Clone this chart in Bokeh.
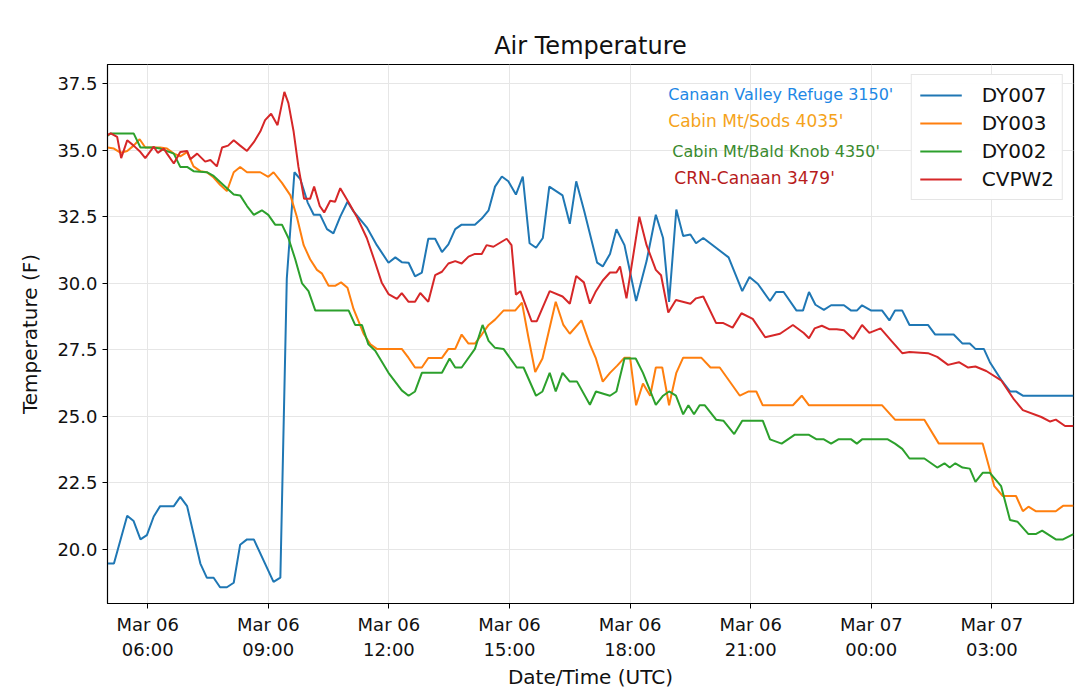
from bokeh.plotting import figure
from bokeh.models import FixedTicker, Label
from bokeh.embed import file_html
from bokeh.resources import INLINE

# hours after Mar 06 00:00 UTC
t_dy007 = [5.0, 5.16, 5.49, 5.65, 5.82, 5.98, 6.15, 6.31, 6.65, 6.81, 6.98, 7.31, 7.47, 7.64, 7.8, 7.97,
           8.14, 8.3, 8.47, 8.64, 9.13, 9.3, 9.46, 9.65, 9.8, 9.98, 10.13, 10.29, 10.46, 10.62, 10.79,
           10.97, 11.12, 11.45, 11.7, 11.99, 12.16, 12.32, 12.49, 12.65, 12.82, 12.98, 13.15, 13.32,
           13.48, 13.65, 13.81, 14.14, 14.31, 14.48, 14.64, 14.81, 14.97, 15.16, 15.33, 15.5, 15.66,
           15.83, 15.99, 16.32, 16.5, 16.66, 16.86, 17.18, 17.32, 17.5, 17.66, 17.86, 18.15, 18.41,
           18.64, 18.82, 18.97, 19.15, 19.32, 19.5, 19.64, 19.82, 20.45, 20.79, 20.97, 21.18, 21.48,
           21.63, 21.82, 22.14, 22.3, 22.45, 22.61, 22.82, 23.0, 23.32, 23.5, 23.64, 23.77, 24.0,
           24.27, 24.45, 24.59, 24.77, 24.95, 25.41, 25.59, 26.05, 26.27, 26.45, 26.59, 26.8, 26.95,
           27.23, 27.45, 27.6, 27.77, 29.03]
v_dy007 = [19.46, 19.46, 21.26, 21.06, 20.37, 20.53, 21.23, 21.62, 21.62, 21.97, 21.62, 19.46, 18.93,
           18.93, 18.57, 18.57, 18.74, 20.17, 20.37, 20.37, 18.77, 18.93, 30.17, 34.17, 33.9, 33.03,
           32.57, 32.57, 32.03, 31.87, 32.5, 33.06, 32.7, 32.1, 31.43, 30.77, 30.97, 30.79, 30.77,
           30.26, 30.4, 31.67, 31.67, 31.17, 31.46, 32.03, 32.2, 32.2, 32.43, 32.74, 33.63, 34.01,
           33.83, 33.33, 34.01, 31.5, 31.33, 31.7, 33.63, 33.3, 32.23, 33.83, 32.7, 30.77, 30.63,
           31.1, 32.03, 31.43, 29.33, 30.83, 32.57, 31.7, 29.3, 32.77, 31.77, 31.83, 31.5, 31.7,
           30.97, 29.7, 30.23, 29.97, 29.33, 29.67, 29.67, 28.97, 28.97, 29.67, 29.19, 29.0, 29.17,
           29.17, 28.97, 28.97, 29.17, 28.97, 28.97, 28.6, 28.97, 28.97, 28.43, 28.43, 28.07, 28.07,
           27.73, 27.73, 27.53, 27.53, 27.03, 26.37, 25.93, 25.93, 25.77, 25.77]

t_dy003 = [5.0, 5.16, 5.33, 5.49, 5.65, 5.8, 5.94, 6.31, 6.48, 6.65, 6.81, 6.98, 7.14, 7.31, 7.47, 7.64,
           7.8, 7.97, 8.14, 8.3, 8.47, 8.8, 9.0, 9.13, 9.34, 9.55, 9.71, 9.88, 10.04, 10.21, 10.33,
           10.5, 10.66, 10.81, 10.97, 11.12, 11.37, 11.54, 11.7, 12.32, 12.49, 12.65, 12.82, 12.98,
           13.32, 13.48, 13.65, 13.81, 13.98, 14.14, 14.31, 14.48, 14.64, 14.85, 15.14, 15.31, 15.47,
           15.64, 15.82, 16.15, 16.34, 16.5, 16.79, 17.0, 17.15, 17.32, 17.5, 17.68, 17.86, 18.0,
           18.15, 18.32, 18.5, 18.64, 18.8, 18.97, 19.15, 19.32, 19.77, 20.0, 20.23, 20.73, 20.95,
           21.14, 21.3, 22.05, 22.27, 22.45, 24.27, 24.59, 25.32, 25.68, 26.77, 27.06, 27.27, 27.6,
           27.77, 27.91, 28.09, 28.59, 28.77, 29.03]
v_dy003 = [35.1, 35.06, 34.9, 34.97, 35.17, 35.41, 35.1, 35.1, 35.06, 34.87, 34.77, 34.93, 34.39, 34.21,
           34.17, 33.97, 33.7, 33.46, 34.17, 34.37, 34.17, 34.17, 34.0, 34.17, 33.77, 33.3, 32.5,
           31.43, 30.9, 30.5, 30.37, 29.9, 29.9, 30.03, 29.83, 29.03, 28.1, 27.7, 27.53, 27.53, 27.19,
           26.83, 26.83, 27.19, 27.19, 27.53, 27.53, 28.07, 27.73, 27.73, 28.07, 28.43, 28.63, 28.97,
           28.97, 29.27, 27.97, 26.66, 27.17, 29.3, 28.43, 28.1, 28.6, 27.7, 27.17, 26.3, 26.63, 26.9,
           27.2, 27.2, 25.41, 26.23, 25.77, 26.83, 26.83, 25.41, 26.63, 27.2, 27.2, 26.83, 26.83,
           25.77, 25.93, 25.93, 25.41, 25.41, 25.77, 25.41, 25.41, 24.87, 24.87, 23.97, 23.97, 22.37,
           22.0, 22.0, 21.43, 21.6, 21.43, 21.43, 21.63, 21.63]

t_dy002 = [5.0, 5.08, 5.65, 5.82, 6.15, 6.31, 6.65, 6.81, 6.98, 7.14, 7.47, 7.64, 7.97, 8.14, 8.3, 8.47,
           8.64, 8.84, 9.0, 9.17, 9.34, 9.5, 9.67, 9.84, 10.0, 10.17, 11.0, 11.16, 11.33, 11.49, 11.66,
           11.99, 12.32, 12.49, 12.65, 12.82, 13.32, 13.51, 13.65, 13.81, 14.14, 14.33, 14.48, 14.64,
           14.85, 15.18, 15.35, 15.66, 15.82, 16.0, 16.15, 16.32, 16.5, 16.68, 17.0, 17.15, 17.5,
           17.66, 17.86, 18.14, 18.32, 18.64, 18.82, 18.97, 19.14, 19.32, 19.45, 19.59, 19.73, 19.86,
           20.14, 20.32, 20.59, 20.79, 21.3, 21.48, 21.77, 22.09, 22.45, 22.64, 22.82, 23.0, 23.18,
           23.5, 23.64, 23.77, 24.41, 24.59, 24.77, 24.95, 25.32, 25.64, 25.82, 25.95, 26.09, 26.27,
           26.45, 26.59, 26.77, 26.95, 27.23, 27.45, 27.64, 27.91, 28.09, 28.25, 28.59, 28.77, 29.03]
v_dy002 = [35.54, 35.63, 35.63, 35.1, 35.1, 35.06, 34.87, 34.37, 34.37, 34.21, 34.17, 34.03, 33.57,
           33.33, 33.3, 32.9, 32.57, 32.74, 32.57, 32.2, 32.2, 31.7, 30.9, 29.99, 29.7, 28.97, 28.97,
           28.43, 28.43, 27.7, 27.46, 26.63, 25.97, 25.77, 25.93, 26.63, 26.63, 27.17, 26.83, 26.83,
           27.53, 28.43, 27.83, 27.57, 27.53, 26.83, 26.83, 25.77, 25.93, 26.63, 25.93, 26.63, 26.3,
           26.3, 25.43, 25.93, 25.77, 25.93, 27.17, 27.17, 26.63, 25.43, 25.77, 25.93, 25.77, 25.07,
           25.41, 25.07, 25.41, 25.41, 24.87, 24.83, 24.33, 24.83, 24.83, 24.13, 23.97, 24.3, 24.3,
           24.13, 24.13, 23.97, 24.13, 24.13, 23.97, 24.13, 24.13, 23.97, 23.77, 23.41, 23.41, 23.07,
           23.23, 23.07, 23.23, 23.07, 23.03, 22.53, 22.87, 22.87, 22.37, 21.1, 21.03, 20.57, 20.57,
           20.7, 20.37, 20.37, 20.57]

t_cvpw2 = [5.0, 5.08, 5.24, 5.34, 5.49, 5.65, 5.82, 5.94, 6.15, 6.25, 6.4, 6.48, 6.65, 6.81, 6.98, 7.06,
           7.23, 7.43, 7.56, 7.72, 7.85, 8.0, 8.14, 8.3, 8.47, 8.64, 8.8, 8.92, 9.07, 9.23, 9.4, 9.5,
           9.63, 9.75, 9.89, 10.04, 10.14, 10.28, 10.39, 10.54, 10.66, 10.79, 11.0, 11.2, 11.45, 11.66,
           11.82, 11.99, 12.2, 12.32, 12.49, 12.65, 12.78, 12.98, 13.15, 13.32, 13.48, 13.65, 13.81,
           13.98, 14.14, 14.31, 14.43, 14.6, 14.93, 15.05, 15.16, 15.27, 15.55, 15.68, 16.0, 16.32,
           16.5, 16.66, 16.85, 17.0, 17.15, 17.32, 17.5, 17.66, 17.75, 17.91, 18.23, 18.41, 18.64,
           18.77, 18.95, 19.14, 19.5, 19.64, 19.82, 20.14, 20.32, 20.55, 20.77, 21.05, 21.36, 21.73,
           22.05, 22.32, 22.45, 22.59, 22.77, 22.95, 23.14, 23.32, 23.55, 23.77, 23.95, 24.23, 24.5,
           24.77, 24.95, 25.41, 25.64, 25.91, 26.18, 26.41, 26.59, 26.86, 27.23, 27.55, 27.77, 28.23,
           28.45, 28.59, 28.82, 29.03]
v_cvpw2 = [35.57, 35.63, 35.5, 34.7, 35.37, 35.17, 34.93, 34.7, 35.13, 34.9, 35.06, 34.87, 34.5, 34.93,
           34.97, 34.66, 34.87, 34.57, 34.63, 34.39, 35.1, 35.17, 35.37, 35.17, 34.97, 35.3, 35.7,
           36.13, 36.37, 35.94, 37.19, 36.77, 35.7, 34.37, 33.17, 33.17, 33.63, 32.9, 32.66, 33.1,
           33.06, 33.57, 33.03, 32.5, 31.7, 30.77, 30.03, 29.59, 29.41, 29.63, 29.3, 29.3, 29.63,
           29.3, 30.3, 30.43, 30.74, 30.83, 30.74, 31.0, 31.1, 31.1, 31.43, 31.37, 31.67, 31.43,
           29.57, 29.7, 28.57, 28.57, 29.7, 29.5, 29.23, 30.27, 30.03, 29.23, 29.7, 30.1, 30.4, 30.4,
           30.63, 29.43, 32.5, 31.43, 30.5, 30.3, 28.9, 29.37, 29.23, 29.43, 29.5, 28.5, 28.5, 28.33,
           28.87, 28.66, 27.97, 28.1, 28.43, 28.13, 27.93, 28.3, 28.4, 28.27, 28.27, 28.23, 27.9,
           28.43, 28.13, 28.3, 27.83, 27.37, 27.41, 27.37, 27.23, 26.93, 27.03, 26.83, 26.87, 26.7,
           26.35, 25.63, 25.23, 24.97, 24.8, 24.87, 24.63, 24.63]

tick_hours = [6, 9, 12, 15, 18, 21, 24, 27]
tick_labels = ["Mar 06\n06:00", "Mar 06\n09:00", "Mar 06\n12:00", "Mar 06\n15:00",
               "Mar 06\n18:00", "Mar 06\n21:00", "Mar 07\n00:00", "Mar 07\n03:00"]
y_ticks = [20.0, 22.5, 25.0, 27.5, 30.0, 32.5, 35.0, 37.5]

FONT = "DejaVu Sans"

p = figure(width=1075, height=695, output_backend="svg", toolbar_location=None,
           x_range=(5.0, 29.03), y_range=(17.96, 38.22),
           min_border_left=107, min_border_right=2, min_border_top=64, min_border_bottom=92)

p.title.text = "Air Temperature"
p.title.align = "center"
p.title.text_font = FONT
p.title.text_font_size = "24px"
p.title.text_font_style = "normal"
p.title.text_color = "#111111"
p.title.offset = 0

p.line(t_dy007, v_dy007, line_color="#1f77b4", line_width=2, legend_label="DY007")
p.line(t_dy003, v_dy003, line_color="#ff7f0e", line_width=2, legend_label="DY003")
p.line(t_dy002, v_dy002, line_color="#2ca02c", line_width=2, legend_label="DY002")
p.line(t_cvpw2, v_cvpw2, line_color="#d62728", line_width=2, legend_label="CVPW2")

p.xaxis.ticker = FixedTicker(ticks=tick_hours)
p.xaxis.major_label_overrides = {h: l for h, l in zip(tick_hours, tick_labels)}
p.yaxis.ticker = FixedTicker(ticks=y_ticks)
p.yaxis.major_label_overrides = {v: "%.1f" % v for v in y_ticks}
p.xaxis.axis_label = "Date/Time (UTC)"
p.yaxis.axis_label = "Temperature (F)"
for ax in (p.xaxis, p.yaxis):
    ax.axis_label_text_font = FONT
    ax.axis_label_text_font_size = "20px"
    ax.axis_label_text_font_style = "normal"
    ax.axis_label_text_color = "#111111"
    ax.major_label_text_font = FONT
    ax.major_label_text_font_size = "18px"
    ax.major_label_text_color = "#111111"
    ax.minor_tick_line_color = None
    ax.major_tick_out = 5
    ax.major_tick_in = 0
    ax.axis_line_color = "black"
p.xaxis.axis_label_standoff = 2
p.yaxis.axis_label_standoff = 12

p.grid.grid_line_color = "#e6e6e6"
p.outline_line_color = "black"
p.outline_line_width = 1.2

p.legend.location = "top_right"
p.legend.label_text_font = FONT
p.legend.label_text_font_size = "20px"
p.legend.label_text_color = "#111111"
p.legend.glyph_width = 42
p.legend.label_standoff = 20
p.legend.spacing = 4
p.legend.padding = 8
p.legend.margin = 10
p.legend.border_line_color = "#cccccc"
p.legend.border_line_width = 1

notes = [("Canaan Valley Refuge 3150'", 18.95, 37.1, "#1e88e5", "16px"),
         ("Cabin Mt/Sods 4035'", 18.95, 36.1, "#f5a31a", "17px"),
         ("Cabin Mt/Bald Knob 4350'", 19.05, 34.95, "#3a8a2e", "16px"),
         ("CRN-Canaan 3479'", 19.1, 33.95, "#b71c1c", "17px")]
for txt, x, y, c, fs in notes:
    p.add_layout(Label(x=x, y=y, text=txt, text_color=c, text_font=FONT,
                       text_font_size=fs, text_baseline="middle"))

open("out.html", "w").write(file_html(p, INLINE))
